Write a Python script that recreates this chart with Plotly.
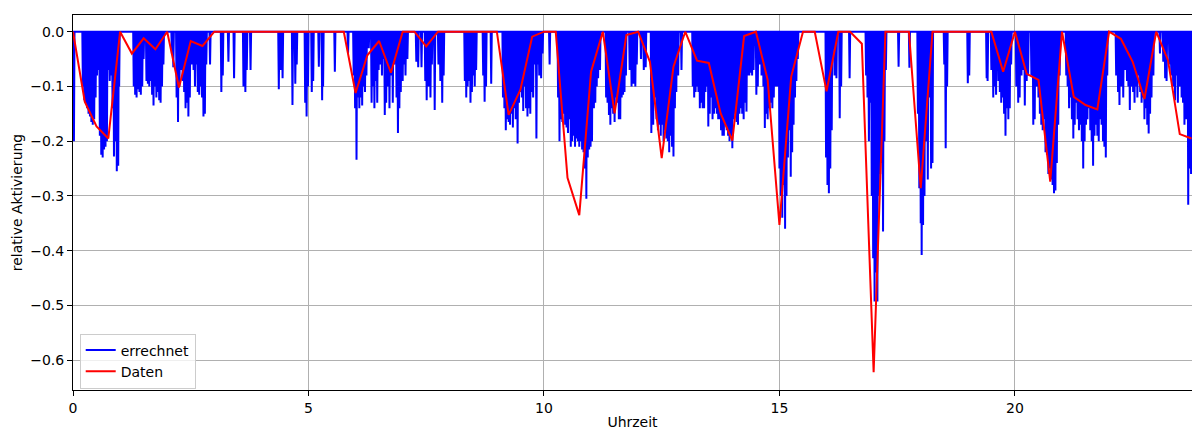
import plotly.graph_objects as go

# ---------------- data ----------------
# "Daten": quarter-hourly measured activation
daten_hours = [i * 0.25 for i in range(96)]
daten_values = [
    0.0, -0.128, -0.173, -0.195, 0.0, -0.040, -0.012, -0.032,
    0.0, -0.102, -0.017, -0.026, 0.0, 0.0, 0.0, 0.0,
    0.0, 0.0, 0.0, 0.0, 0.0, 0.0, 0.0, 0.0,
    -0.112, -0.043, -0.017, -0.075, 0.0, 0.0, -0.027, 0.0,
    0.0, 0.0, 0.0, 0.0, 0.0, -0.152, -0.106, -0.009,
    0.0, 0.0, -0.267, -0.335, -0.073, 0.0, -0.149, -0.006,
    0.0, -0.055, -0.231, -0.064, 0.0, -0.053, -0.057, -0.149,
    -0.199, -0.008, 0.0, -0.088, -0.353, -0.082, 0.0, 0.0,
    -0.109, 0.0, 0.0, -0.022, -0.622, 0.0, 0.0, 0.0,
    -0.286, 0.0, 0.0, 0.0, 0.0, 0.0, 0.0, -0.073,
    0.0, -0.077, -0.088, -0.274, 0.0, -0.119, -0.134, -0.142,
    0.0, -0.013, -0.055, -0.123, 0.0, -0.052, -0.187, -0.195,
]

# "errechnet": computed activation, baseline 0 with short negative pulses
calc_baseline = 0.0
calc_day_start = 0.0
calc_day_end = 23.98
calc_hours = [
    0.02,
    0.21, 0.24, 0.27, 0.30, 0.33, 0.36, 0.39, 0.42, 0.45, 0.48, 0.51, 0.54, 0.57, 0.60,
    0.63, 0.66, 0.69, 0.72, 0.75, 0.78, 0.81, 0.84, 0.87, 0.90, 0.93, 0.96, 0.98,
    1.29, 1.32, 1.35, 1.38, 1.41, 1.44, 1.47, 1.50, 1.56, 1.59, 1.62, 1.65, 1.68, 1.71,
    1.74, 1.77, 1.80, 1.83, 1.86, 1.89, 1.92,
    2.10, 2.13, 2.20, 2.23, 2.26, 2.29, 2.33, 2.36, 2.39, 2.42, 2.45, 2.48, 2.52, 2.56,
    2.59, 2.62, 2.65, 2.68, 2.71, 2.74, 2.77, 2.80, 2.83, 2.91,
    3.15, 3.18, 3.30, 3.42, 3.62, 3.66, 3.69, 3.77, 4.37, 4.41, 4.45, 4.66, 4.72, 4.75,
    4.93, 4.96, 4.99, 5.07, 5.10, 5.22, 5.29, 5.31, 5.56, 5.84,
    5.96, 5.99, 6.02, 6.05, 6.08, 6.11, 6.14, 6.17, 6.20, 6.23, 6.28, 6.34, 6.37, 6.40,
    6.43, 6.46, 6.49, 6.53, 6.56, 6.59, 6.62, 6.65, 6.69, 6.72, 6.75, 6.79, 6.82, 6.87,
    6.90, 6.93, 6.96, 7.00, 7.03, 7.06, 7.10,
    7.29, 7.33, 7.40, 7.48, 7.51, 7.55, 7.59, 7.62, 7.68, 7.76, 7.80, 7.84, 7.87,
    8.32, 8.35, 8.38, 8.41, 8.44, 8.47, 8.50, 8.53, 8.56, 8.71, 8.74, 8.77, 8.88,
    9.13, 9.16, 9.19, 9.22, 9.25, 9.28, 9.31, 9.34, 9.37, 9.40, 9.44, 9.47, 9.50, 9.53,
    9.56, 9.59, 9.62, 9.65, 9.68, 9.71, 9.74, 9.77, 9.80, 9.84, 9.87, 9.90, 9.94, 9.97,
    10.12,
    10.30, 10.33, 10.36, 10.39, 10.42, 10.45, 10.48, 10.51, 10.54, 10.57, 10.60, 10.63,
    10.66, 10.69, 10.72, 10.75, 10.78, 10.81, 10.84, 10.87, 10.90, 10.93, 10.96, 10.99,
    11.02, 11.06, 11.09, 11.12, 11.15, 11.19,
    11.32, 11.35, 11.38, 11.41, 11.44, 11.47, 11.50, 11.53, 11.56, 11.59, 11.62, 11.65,
    11.68, 11.71, 11.74, 11.82, 11.86, 11.90, 11.94, 11.97,
    12.06, 12.12, 12.16, 12.28, 12.32, 12.35, 12.39, 12.42, 12.45, 12.48, 12.51, 12.54,
    12.57, 12.60, 12.63, 12.66, 12.69, 12.72, 12.75, 12.78, 12.81, 12.85, 12.92,
    13.16, 13.19, 13.22, 13.25, 13.28, 13.31, 13.34, 13.37, 13.40, 13.43, 13.46, 13.49,
    13.52, 13.55, 13.58, 13.61, 13.64, 13.67, 13.70, 13.73, 13.76, 13.79, 13.82, 13.85,
    13.88, 13.91, 13.94, 13.97, 14.00, 14.03, 14.06, 14.09, 14.12, 14.15, 14.18, 14.21,
    14.24, 14.27, 14.30, 14.33, 14.36, 14.39, 14.42, 14.45,
    14.51, 14.54, 14.58, 14.62, 14.66, 14.69, 14.72, 14.75, 14.79, 14.82, 14.85, 14.88,
    14.91, 14.95, 15.00, 15.03, 15.06, 15.09, 15.12, 15.15, 15.18, 15.21, 15.24, 15.27,
    15.30, 15.33, 15.36, 15.39,
    15.99, 16.02, 16.05, 16.08, 16.11, 16.17, 16.21, 16.28, 16.31, 16.49,
    16.84, 16.87, 16.90, 16.93, 16.96, 16.99, 17.02, 17.05, 17.08, 17.11, 17.14, 17.17,
    17.20, 17.23, 17.26,
    17.53, 17.76, 17.94, 17.97, 18.00, 18.02, 18.05, 18.08, 18.12, 18.15, 18.19, 18.22,
    18.25, 18.50, 18.53, 18.56, 19.00, 19.03,
    19.40, 19.42, 19.50, 19.54, 19.57, 19.60, 19.65, 19.68, 19.71, 19.74, 19.77, 19.80,
    19.83, 19.86, 19.89, 19.92,
    20.03, 20.07, 20.10, 20.14, 20.18, 20.21, 20.25, 20.28, 20.35, 20.39, 20.42, 20.46,
    20.50, 20.53, 20.56, 20.59, 20.62, 20.65, 20.68, 20.71, 20.74, 20.77, 20.80, 20.83,
    20.86, 20.89, 20.92, 20.95,
    21.09, 21.12, 21.15, 21.18, 21.21, 21.24, 21.27, 21.30, 21.33, 21.36, 21.39, 21.42,
    21.45, 21.48, 21.51, 21.54, 21.57, 21.60, 21.63, 21.66, 21.69, 21.72, 21.75, 21.78,
    21.81, 21.84, 21.87, 21.90, 21.93, 21.96,
    22.15, 22.19, 22.22, 22.26, 22.30, 22.34, 22.38, 22.41, 22.44, 22.47, 22.51, 22.54,
    22.57, 22.60, 22.63, 22.66, 22.69, 22.72, 22.75, 22.78, 22.81, 22.84, 22.87, 22.90,
    22.94,
    23.08, 23.15, 23.19, 23.22, 23.28, 23.32, 23.36, 23.40, 23.43, 23.46, 23.50, 23.54,
    23.57, 23.60, 23.64, 23.68, 23.71, 23.74,
]
calc_values = [
    -0.20,
    -0.10, -0.125, -0.13, -0.14, -0.15, -0.155, -0.165, -0.17, -0.16, -0.12, -0.08, -0.07, -0.19, -0.225,
    -0.23, -0.215, -0.21, -0.20, -0.07, -0.09, -0.08, -0.14, -0.228, -0.20, -0.255, -0.245, -0.10,
    -0.10, -0.115, -0.12, -0.105, -0.11, -0.115, -0.10, -0.05, -0.09, -0.095, -0.10, -0.09, -0.115, -0.135,
    -0.10, -0.12, -0.11, -0.125, -0.13, -0.10, -0.06,
    -0.04, -0.065, -0.12, -0.165, -0.10, -0.07, -0.09, -0.11, -0.14, -0.13, -0.155, -0.12, -0.06, -0.07,
    -0.10, -0.06, -0.11, -0.115, -0.10, -0.12, -0.155, -0.15, -0.06, -0.06,
    -0.11, -0.08, -0.055, -0.085, -0.10, -0.11, -0.07, -0.07, -0.105, -0.07, -0.085, -0.134, -0.095, -0.06,
    -0.13, -0.155, -0.10, -0.11, -0.09, -0.064, -0.125, -0.10, -0.073, -0.04,
    -0.08, -0.14, -0.234, -0.12, -0.14, -0.12, -0.135, -0.10, -0.11, -0.08, -0.03, -0.13, -0.10, -0.14,
    -0.09, -0.13, -0.07, -0.06, -0.08, -0.05, -0.152, -0.13, -0.10, -0.14, -0.08, -0.13, -0.06, -0.12,
    -0.185, -0.14, -0.11, -0.09, -0.06, -0.08, -0.05,
    -0.055, -0.065, -0.065, -0.09, -0.125, -0.10, -0.12, -0.06, -0.143, -0.06, -0.09, -0.13, -0.08,
    -0.09, -0.12, -0.10, -0.09, -0.13, -0.11, -0.08, -0.10, -0.07, -0.08, -0.128, -0.10, -0.095,
    -0.12, -0.14, -0.18, -0.16, -0.165, -0.17, -0.15, -0.175, -0.14, -0.16, -0.204, -0.13, -0.11, -0.12,
    -0.145, -0.10, -0.14, -0.155, -0.14, -0.15, -0.11, -0.12, -0.06, -0.195, -0.06, -0.08, -0.085, -0.04,
    -0.06,
    -0.12, -0.20, -0.16, -0.165, -0.15, -0.17, -0.175, -0.185, -0.16, -0.21, -0.20, -0.19,
    -0.21, -0.195, -0.20, -0.21, -0.20, -0.215, -0.22, -0.25, -0.305, -0.23, -0.215, -0.21,
    -0.20, -0.14, -0.13, -0.10, -0.085, -0.07,
    -0.12, -0.13, -0.152, -0.17, -0.14, -0.15, -0.165, -0.12, -0.13, -0.16, -0.16, -0.12,
    -0.115, -0.11, -0.08, -0.07, -0.10, -0.095, -0.10, -0.06,
    -0.05, -0.07, -0.065, -0.185, -0.17, -0.12, -0.16, -0.18, -0.17, -0.19, -0.17, -0.20,
    -0.18, -0.195, -0.20, -0.22, -0.19, -0.21, -0.228, -0.14, -0.11, -0.08, -0.07,
    -0.10, -0.12, -0.11, -0.10, -0.11, -0.14, -0.13, -0.14, -0.14, -0.11, -0.10, -0.173,
    -0.15, -0.12, -0.16, -0.15, -0.14, -0.15, -0.16, -0.16, -0.18, -0.19, -0.19, -0.17,
    -0.18, -0.19, -0.20, -0.19, -0.213, -0.16, -0.15, -0.165, -0.17, -0.15, -0.14, -0.15,
    -0.16, -0.13, -0.146, -0.08, -0.08, -0.075, -0.08, -0.07,
    -0.115, -0.10, -0.06, -0.08, -0.10, -0.176, -0.15, -0.16, -0.14, -0.13, -0.14, -0.12,
    -0.10, -0.10, -0.25, -0.30, -0.34, -0.28, -0.36, -0.30, -0.23, -0.18, -0.265, -0.22,
    -0.17, -0.12, -0.09, -0.05,
    -0.23, -0.28, -0.295, -0.25, -0.18, -0.08, -0.085, -0.158, -0.10, -0.085,
    -0.08, -0.12, -0.20, -0.13, -0.30, -0.414, -0.493, -0.44, -0.493, -0.30, -0.26, -0.24,
    -0.365, -0.20, -0.07,
    -0.064, -0.066, -0.15, -0.286, -0.35, -0.408, -0.353, -0.30, -0.20, -0.27, -0.12, -0.25,
    -0.24, -0.06, -0.213, -0.10, -0.094, -0.08,
    -0.085, -0.09, -0.07, -0.12, -0.10, -0.115, -0.09, -0.11, -0.13, -0.12, -0.15, -0.19,
    -0.14, -0.16, -0.14, -0.06,
    -0.10, -0.13, -0.12, -0.08, -0.07, -0.135, -0.09, -0.08, -0.08, -0.17, -0.16, -0.10,
    -0.12, -0.15, -0.17, -0.18, -0.16, -0.22, -0.225, -0.26, -0.25, -0.27, -0.28, -0.295,
    -0.29, -0.24, -0.17, -0.08,
    -0.08, -0.10, -0.14, -0.12, -0.16, -0.195, -0.17, -0.13, -0.16, -0.18, -0.17, -0.20,
    -0.25, -0.20, -0.17, -0.16, -0.14, -0.18, -0.20, -0.245, -0.19, -0.17, -0.19, -0.20,
    -0.16, -0.17, -0.20, -0.21, -0.23, -0.08,
    -0.08, -0.11, -0.134, -0.10, -0.12, -0.07, -0.09, -0.10, -0.143, -0.10, -0.11, -0.13,
    -0.10, -0.12, -0.08, -0.11, -0.13, -0.12, -0.16, -0.14, -0.17, -0.186, -0.15, -0.12,
    -0.08,
    -0.04, -0.055, -0.085, -0.09, -0.06, -0.08, -0.10, -0.125, -0.08, -0.13, -0.10, -0.12,
    -0.13, -0.17, -0.16, -0.316, -0.25, -0.26,
]
assert len(calc_hours) == len(calc_values)

x_ticks = [0, 5, 10, 15, 20]
y_ticks = [0.0, -0.1, -0.2, -0.3, -0.4, -0.5, -0.6]

# ---------------- build pulse line ----------------
half_width = 0.012
cx = [calc_day_start]
cy = [calc_baseline]
for t, v in zip(calc_hours, calc_values):
    cx += [t - half_width, t, t + half_width]
    cy += [calc_baseline, v, calc_baseline]
cx.append(calc_day_end)
cy.append(calc_baseline)

FONT = "DejaVu Sans"
fig = go.Figure()
fig.add_trace(go.Scatter(
    x=cx, y=cy, mode="lines", name="errechnet",
    line=dict(color="#0000ff", width=2, simplify=False),
))
fig.add_trace(go.Scatter(
    x=daten_hours, y=daten_values, mode="lines", name="Daten",
    line=dict(color="#ff0000", width=2),
))

fig.update_layout(
    width=1192, height=430,
    margin=dict(l=73, r=0, t=15, b=40, autoexpand=False),
    paper_bgcolor="white", plot_bgcolor="white",
    font=dict(family=FONT, size=14, color="black"),
    showlegend=True,
    legend=dict(
        x=0.006, y=0.004, xanchor="left", yanchor="bottom",
        bgcolor="rgba(255,255,255,0.8)", bordercolor="#cccccc", borderwidth=1,
        font=dict(family=FONT, size=14, color="black"),
        tracegroupgap=0, itemwidth=30,
    ),
)
fig.update_xaxes(
    range=[0, 23.76], tickvals=x_ticks, ticktext=[str(v) for v in x_ticks],
    showgrid=True, gridcolor="#b0b0b0", gridwidth=1, zeroline=False,
    showline=True, linecolor="black", linewidth=1, mirror=True,
    ticks="outside", ticklen=5, tickwidth=1, tickcolor="black",
    automargin=False,
    title=dict(text="Uhrzeit", standoff=9, font=dict(family=FONT, size=14)),
    tickfont=dict(family=FONT, size=14),
)
fig.update_yaxes(
    range=[-0.6545, 0.0305], tickvals=y_ticks, tickformat=".1f",
    showgrid=True, gridcolor="#b0b0b0", gridwidth=1, zeroline=False,
    showline=True, linecolor="black", linewidth=1, mirror=False,
    ticks="outside", ticklen=5, tickwidth=1, tickcolor="black",
    automargin=False,
    title=dict(text="relative Aktivierung", standoff=4, font=dict(family=FONT, size=14)),
    tickfont=dict(family=FONT, size=14),
)

fig.write_html("out.html")
